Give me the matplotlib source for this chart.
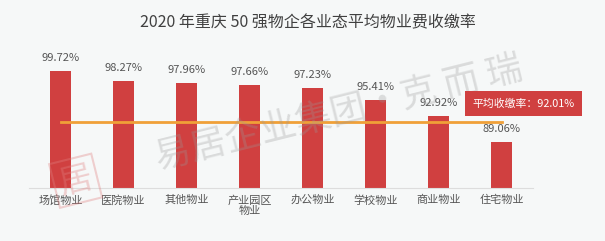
import matplotlib.pyplot as plt

plt.rcParams['font.family'] = ['Noto Sans CJK SC', 'DejaVu Sans']

# data
categories = ['场馆物业', '医院物业', '其他物业', '产业园区\n物业', '办公物业', '学校物业', '商业物业', '住宅物业']
rates = [99.72, 98.27, 97.96, 97.66, 97.23, 95.41, 92.92, 89.06]
avg_rate = 92.01
title = '2020 年重庆 50 强物企各业态平均物业费收缴率'

bg = '#f6f8f8'
bar_color = '#d04040'
line_color = '#f0a038'
text_color = '#555555'

fig = plt.figure(figsize=(6.05, 2.41), dpi=100, facecolor=bg)
ax = fig.add_axes([0.048, 0.22, 0.833, 0.573], facecolor=bg)

x = list(range(len(categories)))
ax.bar(x, rates, width=0.32, color=bar_color, zorder=2)
for xi, v in zip(x, rates):
    ax.text(xi, v + 1.2, f'{v:.2f}%', ha='center', va='bottom',
            fontsize=8, color=text_color)

ax.plot([x[0], x[-1]], [avg_rate, avg_rate], color=line_color, lw=2, zorder=3)

ax.set_xlim(-0.5, len(categories) - 0.5)
ax.set_ylim(82.15, 102.9)
ax.set_yticks([])
ax.set_xticks(x)
ax.set_xticklabels(categories, fontsize=8, color=text_color, linespacing=1.1)
ax.tick_params(axis='x', length=0, pad=5)
for s in ['top', 'right', 'left']:
    ax.spines[s].set_visible(False)
ax.spines['bottom'].set_color('#dddddd')
ax.spines['bottom'].set_linewidth(0.8)

fig.text(0.509, 0.905, title, ha='center', va='center', fontsize=11.5, color='#404040')

fig.text(0.865, 0.571, f'平均收缴率：{avg_rate:.2f}%', ha='center', va='center',
         fontsize=7.8, color='white',
         bbox=dict(boxstyle='square,pad=0.7', fc=bar_color, ec='none'))

# faint watermark
fig.text(0.56, 0.53, '易居企业集团·克 而 瑞', ha='center', va='center', rotation=14,
         fontsize=26, color='#999999', alpha=0.3, zorder=0)
fig.text(0.125, 0.25, '居', ha='center', va='center', rotation=14,
         fontsize=24, color='#e08080', alpha=0.35,
         bbox=dict(boxstyle='square,pad=0.15', fc='none', ec='#e08080', alpha=0.35, lw=1.5))

fig.savefig('out.png', dpi=100, facecolor=bg)
